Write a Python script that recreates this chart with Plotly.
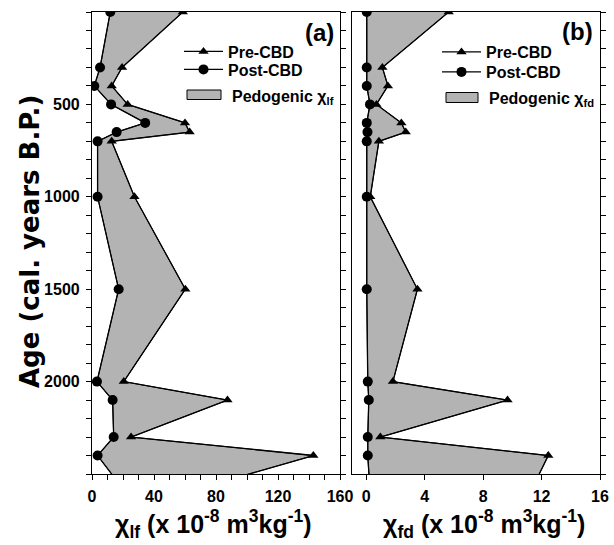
import plotly.graph_objects as go

# ---------------- data ----------------
age = [0, 300, 400, 500, 600, 650, 700, 1000, 1500, 2000, 2100, 2300, 2400, 2550]

pre_lf = [58.6, 19.4, 12.7, 23.0, 60.0, 63.0, 12.7, 27.4, 60.2, 20.5, 87.4, 25.2, 142.8, 80.7]
post_lf = [11.8, 5.2, 1.5, 12.3, 34.3, 15.9, 3.6, 3.6, 17.2, 3.2, 13.3, 14.0, 3.6, 17.2]

pre_fd = [5.64, 1.10, 1.48, 0.69, 2.40, 2.70, 0.86, 0.27, 3.50, 1.82, 9.67, 0.96, 12.46, 11.53]
post_fd = [0.03, 0.03, 0.03, 0.25, 0.03, 0.08, 0.03, 0.03, 0.03, 0.10, 0.17, 0.10, 0.10, 0.22]

age_ticks = [500, 1000, 1500, 2000]
lf_ticks = [0, 40, 80, 120, 160]
fd_ticks = [0, 4, 8, 12, 16]

# ---------------- styling ----------------
FONT = "Liberation Sans"
FONT_WIDE = "DejaVu Sans"
FILL = "#b3b3b3"
W, H = 614, 545
L, R, T, B = 92, 14, 12, 71
PW, PH = W - L - R, H - T - B


def px2x(p):
    return (p - L) / PW


def py2y(p):
    return (H - B - p) / PH


fig = go.Figure()


def add_panel(pre, post, xa, ya, leg_pre, leg_post):
    fig.add_trace(go.Scatter(
        x=list(pre) + list(post)[::-1], y=list(age) + list(age)[::-1],
        fill="toself", fillcolor=FILL, mode="lines",
        line=dict(color="black", width=1), showlegend=False,
        xaxis=xa, yaxis=ya, hoverinfo="skip"))
    fig.add_trace(go.Scatter(
        x=pre, y=age, mode="lines+markers", name="Pre-CBD",
        line=dict(color="black", width=1.3),
        marker=dict(symbol="triangle-up", size=9, color="black"),
        legend=leg_pre, xaxis=xa, yaxis=ya))
    fig.add_trace(go.Scatter(
        x=post, y=age, mode="lines+markers", name="Post-CBD",
        line=dict(color="black", width=1.3),
        marker=dict(symbol="circle", size=10, color="black"),
        legend=leg_post, xaxis=xa, yaxis=ya))


add_panel(pre_lf, post_lf, "x", "y", "legend", "legend2")
add_panel(pre_fd, post_fd, "x2", "y2", "legend3", "legend4")

tickfont = dict(family=FONT, size=16, color="black", weight="bold")
axis_common = dict(showline=True, linecolor="black", linewidth=1.2,
                   showgrid=False, zeroline=False, ticks="outside",
                   ticklen=5, tickwidth=1, tickcolor="black",
                   tickfont=tickfont, automargin=False)

split_a = px2x(340)
split_b = px2x(351.7)
legfont = dict(family=FONT, size=16, color="black", weight="bold")


def leg(xp, cy):
    # cy: wanted centre of the single legend row (pixels)
    return dict(x=px2x(xp), y=py2y(cy - 17), xanchor="left", yanchor="top",
                bgcolor="rgba(0,0,0,0)", itemwidth=39, font=legfont)


fig.update_layout(
    template="none",
    width=W, height=H, autosize=False,
    margin=dict(l=L, r=R, t=T, b=B, autoexpand=False),
    paper_bgcolor="white", plot_bgcolor="white",
    font=dict(family=FONT, color="black"),
    xaxis=dict(domain=[0, split_a], range=[0, 160], tickvals=lf_ticks,
               mirror=True, anchor="y", ticklabelstandoff=3,
               minor=dict(dtick=10, ticks="outside", ticklen=5, tickcolor="black"),
               **axis_common),
    xaxis2=dict(domain=[split_b, 1], range=[-1, 16], tickvals=fd_ticks,
                mirror=True, anchor="y2", ticklabelstandoff=3, **axis_common),
    yaxis=dict(domain=[0, 1], range=[2500, 0], tickvals=age_ticks,
               mirror="ticks", anchor="x", ticklabelstandoff=3,
               minor=dict(dtick=100, ticks="outside", ticklen=5, tickcolor="black"),
               **axis_common),
    yaxis2=dict(domain=[0, 1], range=[2500, 0], tickvals=age_ticks,
                side="right", showticklabels=False, mirror=True, anchor="x2",
                minor=dict(dtick=100, ticks="outside", ticklen=5, tickcolor="black"),
                **axis_common),
    legend=leg(179, 51.5),
    legend2=leg(179, 69.5),
    legend3=leg(437, 52),
    legend4=leg(437, 72),
    showlegend=True,
)

# third legend row: the pedogenic fill swatch
for (x0, x1, y0, y1, tx, ty, sub) in [(187, 221, 90, 99.5, 230, 97, "lf"),
                                      (446, 478, 92.5, 102.5, 487, 99, "fd")]:
    fig.add_shape(type="rect", xref="paper", yref="paper",
                  x0=px2x(x0), x1=px2x(x1), y0=py2y(y1), y1=py2y(y0),
                  fillcolor=FILL, line=dict(color="black", width=1))
    fig.add_annotation(text=f"Pedogenic χ<sub>{sub}</sub>", xref="paper", yref="paper",
                       x=px2x(tx), y=py2y(ty), xanchor="left", yanchor="middle",
                       showarrow=False, font=legfont)

titlefont = dict(family=FONT, size=24, color="black", weight="bold")
fig.add_annotation(text="(a)", xref="paper", yref="paper", x=px2x(336), y=py2y(33),
                   xanchor="right", yanchor="middle", showarrow=False, font=titlefont)
fig.add_annotation(text="(b)", xref="paper", yref="paper", x=px2x(595), y=py2y(32),
                   xanchor="right", yanchor="middle", showarrow=False, font=titlefont)
xtfont = dict(family=FONT, size=25, color="black", weight="bold")
fig.add_annotation(text="χ<sub>lf</sub> (x 10<sup>-8</sup> m<sup>3</sup>kg<sup>-1</sup>)",
                   xref="paper", yref="paper", x=px2x(213), y=py2y(524),
                   xanchor="center", yanchor="middle", showarrow=False, font=xtfont)
fig.add_annotation(text="χ<sub>fd</sub> (x 10<sup>-8</sup> m<sup>3</sup>kg<sup>-1</sup>)",
                   xref="paper", yref="paper", x=px2x(484), y=py2y(524),
                   xanchor="center", yanchor="middle", showarrow=False, font=xtfont)
fig.add_annotation(text="Age (cal. years B.P.)", xref="paper", yref="paper",
                   x=px2x(30), y=py2y(242), xanchor="center", yanchor="middle",
                   textangle=-90, showarrow=False,
                   font=dict(family=FONT_WIDE, size=26, color="black", weight="bold"))

fig.write_html("out.html", config={"displayModeBar": False},
               post_script="document.body.style.margin='0';")
